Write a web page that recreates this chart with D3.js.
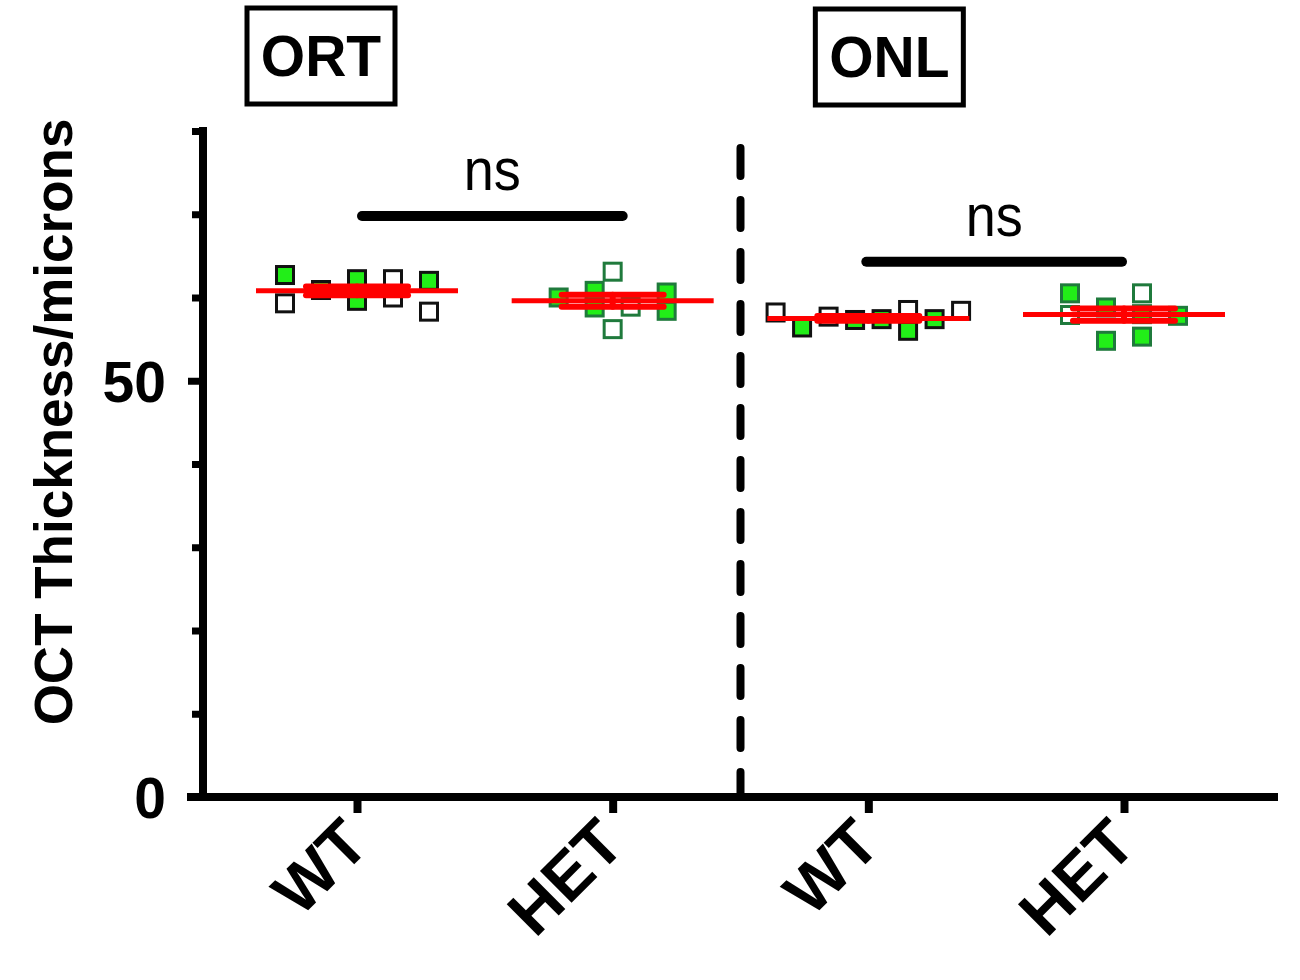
<!DOCTYPE html>
<html>
<head>
<meta charset="utf-8">
<script src="https://cdn.jsdelivr.net/npm/d3@7"></script>
<style>
  body { margin: 0; background: #fff; }
  text { font-family: "Liberation Sans", Arial, Helvetica, sans-serif; }
</style>
</head>
<body>
<svg id="chart" width="1300" height="980"></svg>
<script>
// categories on the x axis (panel / genotype)
var groups = ["ORT-WT", "ORT-HET", "ONL-WT", "ONL-HET"];
var groupLabels = ["WT", "HET", "WT", "HET"];
var panels = ["ORT", "ONL"];

// thickness values (microns)
var ortWT  = [62.7, 59.3, 60.9, 62.2, 59.6, 62.2, 60.0, 62.0, 58.3];
var ortHET = [60.0, 60.8, 58.8, 63.1, 56.2, 58.9, 60.6, 58.4];
var onlWT  = [58.2, 56.4, 57.7, 57.3, 57.4, 58.5, 56.0, 57.4, 58.4];
var onlHET = [60.5, 57.9, 58.8, 54.8, 60.5, 55.3, 58.0, 57.8];

// filled (green) or open marker for each point
var ortWTFill  = [1, 0, 1, 1, 1, 0, 0, 1, 0];
var ortHETFill = [1, 1, 1, 0, 0, 0, 1, 1];
var onlWTFill  = [0, 1, 0, 1, 1, 0, 1, 1, 0];
var onlHETFill = [1, 0, 1, 1, 0, 1, 1, 1];

// scatter column (jitter slot) of each point
var ortWTSlot  = [-2, -2, -1, 0, 0, 1, 1, 2, 2];
var ortHETSlot = [-3, -1, -1, 0, 0, 1, 3, 3];
var onlWTSlot  = [-3.5, -2.5, -1.5, -0.5, 0.5, 1.5, 1.5, 2.5, 3.5];
var onlHETSlot = [-1.5, -1.5, -0.5, -0.5, 0.5, 0.5, 0.5, 1.5];

var yTicks = [0, 10, 20, 30, 40, 50, 60, 70, 80];
var yLabels = [0, 50];
var ns = ["ns", "ns"];
var bracketLevel = [69.8, 64.3];

// ---- layout ----
var plotLeft = 203, plotRight = 1278, plotTop = 131, plotBottom = 797;
var svg = d3.select("#chart");

var y = d3.scaleLinear().domain([0, 80]).range([plotBottom, plotTop]);
var x = d3.scalePoint().domain(groups).range([357, 1124]);
var slotW = [36, 18, 26.5, 36];

var sets = [
  {vals: ortWT,  fill: ortWTFill,  slot: ortWTSlot,  het: false},
  {vals: ortHET, fill: ortHETFill, slot: ortHETSlot, het: true},
  {vals: onlWT,  fill: onlWTFill,  slot: onlWTSlot,  het: false},
  {vals: onlHET, fill: onlHETFill, slot: onlHETSlot, het: true}
];

// points
var msize = 17;
sets.forEach(function(s, gi){
  var cx = x(groups[gi]);
  svg.append("g").selectAll("rect")
    .data(s.vals)
    .enter().append("rect")
    .attr("x", function(d, i){ return cx + s.slot[i] * slotW[gi] - msize / 2; })
    .attr("y", function(d){ return y(d) - msize / 2; })
    .attr("width", msize).attr("height", msize)
    .attr("fill", function(d, i){ return s.fill[i] ? "#22ee18" : "#fff"; })
    .attr("stroke", s.het ? "#1f7a3c" : "#111")
    .attr("stroke-width", 3);
});

// mean and SEM
sets.forEach(function(s, gi){
  var cx = x(groups[gi]);
  var m = d3.mean(s.vals);
  var sem = d3.deviation(s.vals) / Math.sqrt(s.vals.length);
  var g = svg.append("g").attr("stroke", "#ff0000").attr("stroke-linecap", "round");
  g.append("line").attr("x1", cx - 101).attr("x2", cx + 101)
    .attr("y1", y(m)).attr("y2", y(m)).attr("stroke-width", 5).attr("stroke-linecap", "butt");
  g.append("line").attr("x1", cx).attr("x2", cx)
    .attr("y1", y(m - sem)).attr("y2", y(m + sem)).attr("stroke-width", 6);
  [m - sem, m + sem].forEach(function(v){
    g.append("line").attr("x1", cx - 51).attr("x2", cx + 51)
      .attr("y1", y(v)).attr("y2", y(v)).attr("stroke-width", 6);
  });
});

// y axis
var yAxis = svg.append("g").attr("transform", "translate(" + plotLeft + ",0)")
  .call(d3.axisLeft(y).tickValues(yTicks).tickSizeOuter(0).tickFormat(function(d){
    return yLabels.indexOf(d) >= 0 ? d : "";
  }));
yAxis.select(".domain").attr("stroke", "#000").attr("stroke-width", 8)
  .attr("stroke-linecap", "square").attr("d", "M0," + y(0) + "V" + y(80));
yAxis.selectAll(".tick line").attr("stroke", "#000").attr("stroke-width", 7)
  .attr("x2", function(d){ return yLabels.indexOf(d) >= 0 ? -15 : -11; });
yAxis.selectAll(".tick text").attr("x", -37).attr("dy", "0.36em")
  .attr("font-size", 57).attr("font-weight", "bold").attr("fill", "#000");

// x axis
svg.append("line").attr("x1", 187).attr("x2", plotRight).attr("y1", plotBottom).attr("y2", plotBottom)
  .attr("stroke", "#000").attr("stroke-width", 8);
var xAxis = svg.append("g").attr("transform", "translate(0," + plotBottom + ")")
  .call(d3.axisBottom(x).tickSize(16).tickFormat(function(d, i){ return groupLabels[i]; }));
xAxis.select(".domain").remove();
xAxis.selectAll(".tick line").attr("stroke", "#000").attr("stroke-width", 8);
xAxis.selectAll(".tick text")
  .attr("font-size", 65).attr("font-weight", "bold").attr("fill", "#000")
  .attr("text-anchor", "end").attr("y", 0).attr("dy", 0)
  .attr("transform", "translate(14,50) rotate(-45)");

// y title
svg.append("text")
  .attr("transform", "translate(72,422) rotate(-90)")
  .attr("text-anchor", "middle").attr("font-size", 53).attr("font-weight", "bold")
  .text("OCT Thickness/microns");

// dashed separator between panels
var sepX = (x("ORT-HET") + x("ONL-WT")) / 2;
svg.append("line").attr("x1", sepX).attr("x2", sepX).attr("y1", 148).attr("y2", plotBottom)
  .attr("stroke", "#000").attr("stroke-width", 8).attr("stroke-linecap", "round")
  .attr("stroke-dasharray", "28,24");

// panel titles in boxes
var boxShift = [-36, 21];
panels.forEach(function(p, pi){
  var cx = x(groups[pi * 2]) + boxShift[pi];
  var cy = 56 + pi * 1;
  svg.append("rect").attr("x", cx - 74).attr("y", cy - 48).attr("width", 148).attr("height", 96)
    .attr("fill", "none").attr("stroke", "#000").attr("stroke-width", 5);
  svg.append("text").attr("x", cx).attr("y", cy + 20).attr("text-anchor", "middle")
    .attr("font-size", 57).attr("font-weight", "bold").text(p);
});

// significance brackets
var bracketPad = [[5, 10], [-2, -2]];
panels.forEach(function(p, bi){
  var x1 = x(groups[bi * 2]) + bracketPad[bi][0];
  var x2 = x(groups[bi * 2 + 1]) + bracketPad[bi][1];
  var by = y(bracketLevel[bi]);
  svg.append("line").attr("x1", x1).attr("x2", x2).attr("y1", by).attr("y2", by)
    .attr("stroke", "#000").attr("stroke-width", 10).attr("stroke-linecap", "round");
  svg.append("text").attr("x", (x1 + x2) / 2).attr("y", by - 26)
    .attr("text-anchor", "middle").attr("font-size", 60)
    .attr("transform", "translate(" + ((x1 + x2) / 2) + ",0) scale(0.9,1) translate(" + (-(x1 + x2) / 2) + ",0)")
    .text(ns[bi]);
});
</script>
</body>
</html>
